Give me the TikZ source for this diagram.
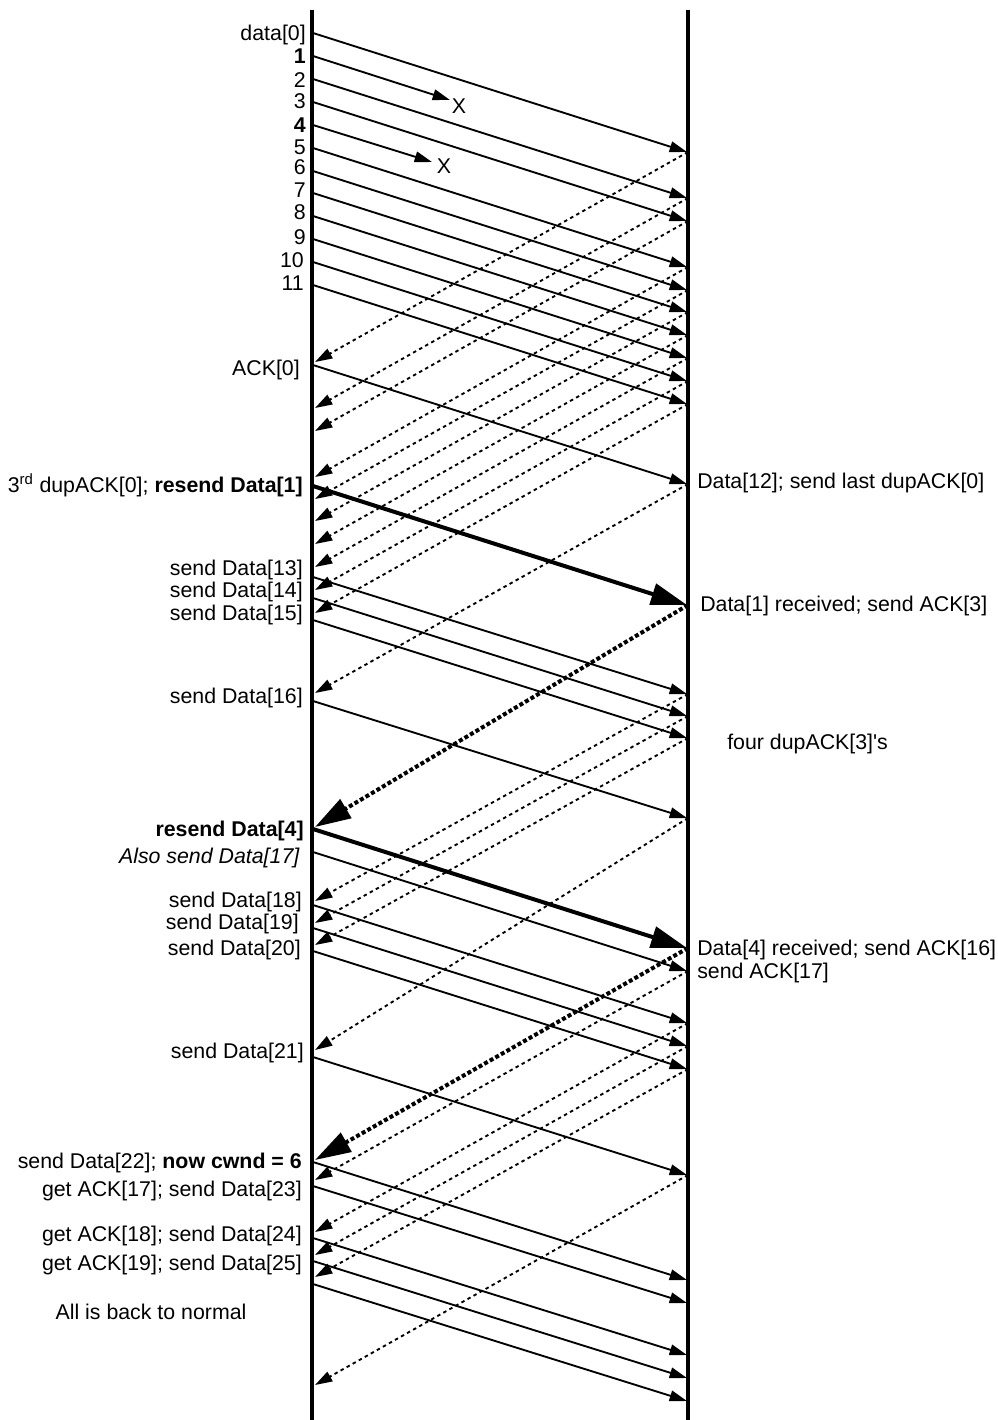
\documentclass[tikz,border=0pt]{standalone}
\usepackage{fontspec}
\setmainfont{Liberation Sans}
\usetikzlibrary{arrows.meta}
\begin{document}
\begin{tikzpicture}[x=0.75pt,y=-0.75pt,
  timeline/.style={line width=2.6pt},
  dataline/.style={line width=1.4pt,-{Triangle[length=13pt,width=8pt]}},
  thickdata/.style={line width=3pt,-{Triangle[length=27pt,width=16pt]}},
  ackline/.style={line width=1.4pt,dash pattern=on 2.6pt off 2.6pt,-{Triangle[length=13pt,width=8pt]}},
  thickack/.style={line width=3pt,dash pattern=on 3pt off 1.8pt,-{Triangle[length=27pt,width=16pt]}},
  lbl/.style={inner sep=0pt,font=\fontsize{16}{19}\selectfont,text height=11.46pt,text depth=0pt},
  leftlbl/.style={lbl,anchor=east},
  rightlbl/.style={lbl,anchor=west}]
\useasboundingbox (0,0) rectangle (997,1420);
% time lines
\coordinate (Ltop) at (312,10); \coordinate (Lbot) at (312,1420);
\coordinate (Rtop) at (688,10); \coordinate (Rbot) at (688,1420);
\draw[timeline] (Ltop) -- (Lbot);
\draw[timeline] (Rtop) -- (Rbot);
% data segments sender -> receiver
\foreach \n/\ys/\ye in {0/33/152,2/79/198,3/102/221,5/148/267,6/171/290,7/193/312,8/216/335,9/239/358,10/262/381,11/285/404,
  12/365/484,13/577/694,14/598/716,15/620/738,16/701/818,17/852/971,18/905/1023,19/928/1046,20/951/1069,21/1057/1175,
  22/1162/1280,23/1186/1303,24/1238/1355,25/1261/1378,26/1284/1401}{
  \coordinate (ds\n) at (313,\ys);
  \coordinate (de\n) at (687,\ye);
  \draw[dataline] (ds\n) -- (de\n);
}
% lost segments
\coordinate (ds1) at (313,56); \coordinate (lost1) at (450,100);
\coordinate (ds4) at (313,125); \coordinate (lost4) at (432,162);
\draw[dataline] (ds1) -- (lost1);
\draw[dataline] (ds4) -- (lost4);
\node[lbl] (x1) at (459,106) {X};
\node[lbl] (x4) at (444,166) {X};
% retransmissions
\coordinate (rs1) at (313,486); \coordinate (re1) at (687,605);
\coordinate (rs4) at (313,829); \coordinate (re4) at (687,948);
\draw[thickdata] (rs1) -- (re1);
\draw[thickdata] (rs4) -- (re4);
% acks receiver -> sender
\foreach \n/\ys/\ye in {0/152/362,2/198/408,3/221/431,5/267/477,6/290/499,7/312/521,8/335/544,9/358/567,10/381/590,11/404/613,
  12/484/693,13/694/901,14/716/923,15/738/945,16/818/1050,17/971/1180,18/1023/1232,19/1046/1255,20/1069/1277,21/1175/1385}{
  \coordinate (as\n) at (688,\ys);
  \coordinate (ae\n) at (315,\ye);
  \draw[ackline] (as\n) -- (ae\n);
}
\coordinate (ka1) at (688,605); \coordinate (kb1) at (315,827);
\coordinate (ka4) at (688,948); \coordinate (kb4) at (315,1160);
\draw[thickack] (ka1) -- (kb1);
\draw[thickack] (ka4) -- (kb4);
% left labels
\node[leftlbl] (l0) at (306,33) {data[0]};
\node[leftlbl] (l1) at (306,56) {\textbf{1}};
\node[leftlbl] (l2) at (306,80) {2};
\node[leftlbl] (l3) at (306,101) {3};
\node[leftlbl] (l4) at (306,125) {\textbf{4}};
\node[leftlbl] (l5) at (306,147) {5};
\node[leftlbl] (l6) at (306,167) {6};
\node[leftlbl] (l7) at (306,190) {7};
\node[leftlbl] (l8) at (306,212) {8};
\node[leftlbl] (l9) at (306,237) {9};
\node[leftlbl] (l10) at (304,260) {10};
\node[leftlbl] (l11) at (304,283) {11};
\node[leftlbl] (lack) at (300,368) {ACK[0]};
\node[leftlbl] (lre1) at (303,485) {3\textsuperscript{rd} dupACK[0]; \textbf{resend Data[1]}};
\node[leftlbl] (l13) at (303,568) {send Data[13]};
\node[leftlbl] (l14) at (303,590) {send Data[14]};
\node[leftlbl] (l15) at (303,613) {send Data[15]};
\node[leftlbl] (l16) at (303,696) {send Data[16]};
\node[leftlbl] (lre4) at (304,829) {\textbf{resend Data[4]}};
\node[leftlbl] (l17) at (300,856) {\textit{Also send Data[17]}};
\node[leftlbl] (l18) at (302,900) {send Data[18]};
\node[leftlbl] (l19) at (299,922) {send Data[19]};
\node[leftlbl] (l20) at (301,948) {send Data[20]};
\node[leftlbl] (l21) at (304,1051) {send Data[21]};
\node[leftlbl] (l22) at (302,1161) {send Data[22]; \textbf{now cwnd = 6}};
\node[leftlbl] (l23) at (302,1189) {get ACK[17]; send Data[23]};
\node[leftlbl] (l24) at (302,1234) {get ACK[18]; send Data[24]};
\node[leftlbl] (l25) at (302,1263) {get ACK[19]; send Data[25]};
\node[lbl] (lnorm) at (151,1312) {All is back to normal};
% right labels
\node[rightlbl] (r12) at (697,481) {Data[12]; send last dupACK[0]};
\node[rightlbl] (r1) at (700,604) {Data[1] received; send ACK[3]};
\node[rightlbl] (rdup) at (727,742) {four dupACK[3]\textquotesingle s};
\node[rightlbl] (r4) at (697,948) {Data[4] received; send ACK[16]};
\node[rightlbl] (r17) at (697,971) {send ACK[17]};
\end{tikzpicture}
\end{document}
